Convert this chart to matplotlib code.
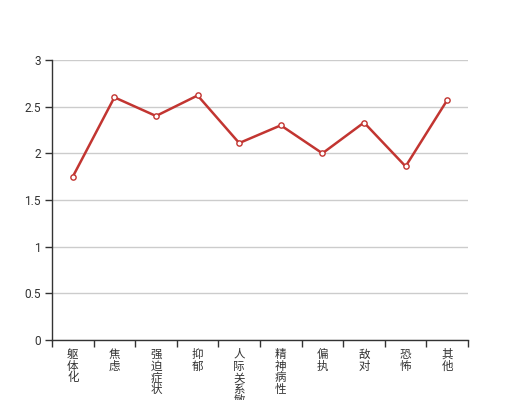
import matplotlib
matplotlib.use("Agg")
import matplotlib.pyplot as plt

plt.rcParams['font.family'] = ['Noto Sans CJK SC', 'DejaVu Sans']

categories = ["躯体化", "焦虑", "强迫症状", "抑郁", "人际关系敏感", "精神病性", "偏执", "敌对", "恐怖", "其他"]
values = [1.75, 2.6, 2.4, 2.62, 2.11, 2.3, 2.0, 2.33, 1.86, 2.57]
yticks = [0, 0.5, 1, 1.5, 2, 2.5, 3]
ytick_labels = ["0", "0.5", "1", "1.5", "2", "2.5", "3"]

fig = plt.figure(figsize=(5.2, 4.0), dpi=100)
ax = fig.add_axes([0.1, 0.15, 0.8, 0.7])

n = len(categories)
xs = list(range(n))
ax.plot(xs, values, color="#c23531", linewidth=1.8, marker="o", markersize=3.8,
        markerfacecolor="white", markeredgecolor="#c23531", markeredgewidth=1, zorder=3)

ax.set_xlim(-0.5, n - 0.5)
ax.set_ylim(0, 3)
ax.set_yticks(yticks)
ax.set_yticklabels(ytick_labels, fontsize=8.6, color="#333333", family=["Roboto", "DejaVu Sans"])
ax.yaxis.grid(True, color="#cccccc", linewidth=1)
ax.set_axisbelow(True)

# category boundary ticks
ax.set_xticks([i - 0.5 for i in range(n + 1)])
ax.set_xticklabels([])
ax.tick_params(axis="x", direction="out", length=5, color="#333333", width=1)
ax.tick_params(axis="y", direction="out", length=5, color="#333333", width=1, pad=3)

for i, c in enumerate(categories):
    ax.text(i, -0.028, "\n".join(c), transform=ax.get_xaxis_transform(),
            ha="center", va="top", fontsize=8.3, color="#333333", linespacing=0.88)

for s in ["top", "right"]:
    ax.spines[s].set_visible(False)
for s in ["left", "bottom"]:
    ax.spines[s].set_color("#333333")
    ax.spines[s].set_linewidth(1)

fig.savefig("out.png", dpi=100)
